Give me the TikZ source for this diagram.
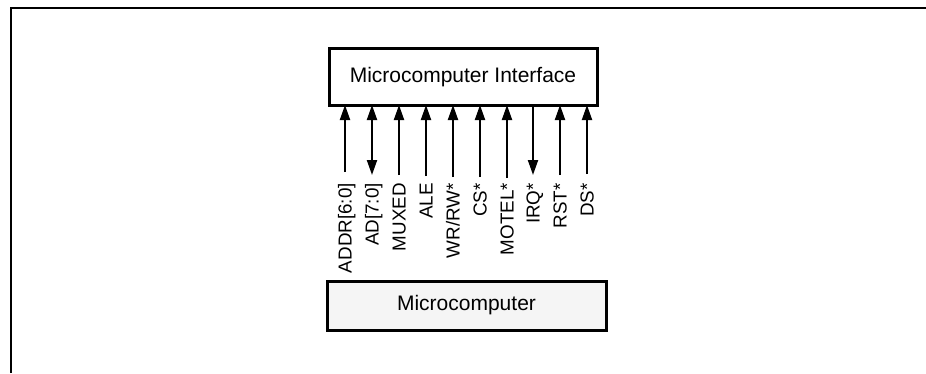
\documentclass[tikz,border=0pt]{standalone}
\usepackage{fontspec}
\setmainfont{Liberation Sans}
\usetikzlibrary{arrows.meta}
\begin{document}
\begin{tikzpicture}[x=1pt,y=1pt,
  box/.style={draw,line width=3pt,inner sep=0pt,font=\fontsize{21}{24}\selectfont},
  sig/.style={line width=2pt,-{Triangle[length=15pt,width=10pt]}},
  bidi/.style={line width=2pt,{Triangle[length=15pt,width=10pt]}-{Triangle[length=15pt,width=10pt]}},
  lab/.style={rotate=90,anchor=base east,inner sep=0pt,font=\fontsize{18.8}{20}\selectfont}]
\useasboundingbox (0,0) rectangle (926,373);
% partial frame
\draw[line width=2pt] (11,0) -- (11,365) -- (926,365);
% boxes
\node[box,minimum width=268pt,minimum height=56pt] (mi) at (463,296) {Microcomputer Interface};
\node[box,fill=black!4,minimum width=279pt,minimum height=49pt] (mc) at (466.5,67.5) {Microcomputer};
% signals
\foreach \n/\x/\t/\e in {1/345/{ADDR[6:0]}/172,2/372/{AD[7:0]}/175,3/399/{MUXED}/175,4/426/{ALE}/176,5/453/{WR/RW*}/177,6/480/{CS*}/177,7/507/{MOTEL*}/178,8/533/{IRQ*}/175,9/560/{RST*}/175,10/587/{DS*}/174}{
  \coordinate (t\n) at (\x,268);
  \coordinate (b\n) at (\x,373-\e);
  \node[lab] (l\n) at (\x+6.7,190) {\t};
}
\foreach \n in {1,3,4,5,6,7,9,10}{\draw[sig] (b\n) -- (t\n);}
\draw[bidi] (b2) -- (t2);
\draw[sig] (t8) -- (b8);
\end{tikzpicture}
\end{document}
